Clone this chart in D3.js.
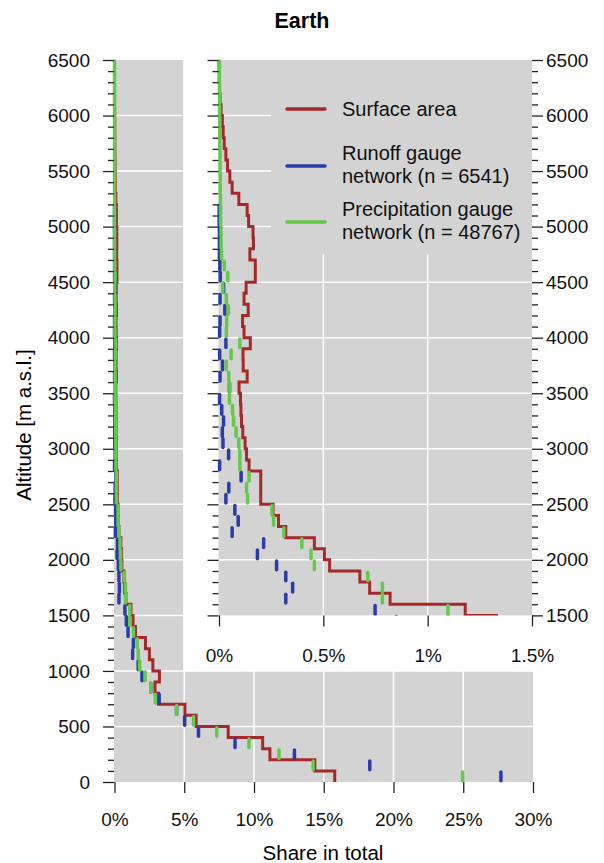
<!DOCTYPE html>
<html>
<head>
<meta charset="utf-8">
<script src="https://cdn.jsdelivr.net/npm/d3@7"></script>
<style>
  body { margin: 0; background: #fff; }
  svg { display: block; font-family: "Liberation Sans", Arial, sans-serif; }
  .tick line { stroke: #222; stroke-width: 1.3; }
  .tick text { fill: #111; font-size: 19px; }
</style>
</head>
<body>
<svg id="chart" width="604" height="863"></svg>
<script>
// altitude bins (lower bound, m a.s.l.), 100 m wide
const binLow = [0, 100, 200, 300, 400, 500, 600, 700, 800, 900,
  1000, 1100, 1200, 1300, 1400, 1500, 1600, 1700, 1800, 1900,
  2000, 2100, 2200, 2300, 2400, 2500, 2600, 2700, 2800, 2900,
  3000, 3100, 3200, 3300, 3400, 3500, 3600, 3700, 3800, 3900,
  4000, 4100, 4200, 4300, 4400, 4500, 4600, 4700, 4800, 4900,
  5000, 5100, 5200, 5300, 5400, 5500, 5600, 5700, 5800, 5900,
  6000, 6100, 6200, 6300, 6400];

// share in total (%) per bin
const surfaceArea = [15.79, 14.36, 11.14, 10.62, 8.15, 5.85, 5.05, 3.15, 2.9, 3.22,
  2.75, 2.5, 2.22, 1.5, 1.33, 1.18, 0.82, 0.722, 0.675, 0.53,
  0.505, 0.457, 0.32, 0.285, 0.259, 0.2, 0.2, 0.2, 0.144, 0.132,
  0.125, 0.114, 0.108, 0.105, 0.103, 0.096, 0.135, 0.116, 0.115, 0.15,
  0.12, 0.113, 0.14, 0.12, 0.13, 0.174, 0.174, 0.148, 0.165, 0.163,
  0.142, 0.135, 0.095, 0.063, 0.052, 0.041, 0.033, 0.025, 0.02, 0.016,
  0.01, 0.005, 0.002, 0.001, 0];

const runoffGauges = [27.7, 18.3, 12.9, 8.64, 6.02, 5.03, 4.45, 3.2, 2.6, 1.97,
  1.7, 1.3, 1.35, 0.97, 0.85, 0.748, 0.32, 0.353, 0.32, 0.276,
  0.184, 0.214, 0.063, 0.092, 0.076, 0.033, 0.047, 0.106, 0.003, 0.046,
  0.019, 0.016, 0.022, 0.013, 0.003, 0.05, 0.005, 0.017, 0.003, 0.033,
  0.003, 0.005, 0.028, 0.005, 0.022, 0.006, 0.004, 0.002, 0.002, 0.002,
  0.001, 0.001, 0, 0, 0, 0, 0, 0, 0, 0,
  0, 0, 0, 0, 0];

const precipGauges = [24.95, 14.24, 11.79, 9.64, 7.33, 5.67, 4.45, 2.93, 2.6, 2.2,
  1.8, 1.7, 1.62, 1.36, 1.1, 1.097, 0.783, 0.783, 0.713, 0.457,
  0.441, 0.397, 0.311, 0.262, 0.254, 0.137, 0.132, 0.144, 0.1, 0.1,
  0.095, 0.082, 0.07, 0.065, 0.05, 0.052, 0.047, 0.035, 0.058, 0.1,
  0.035, 0.037, 0.045, 0.035, 0.018, 0.042, 0.025, 0.012, 0.01, 0.01,
  0.008, 0.008, 0.007, 0.006, 0.006, 0.005, 0.005, 0.004, 0.004, 0.004,
  0.003, 0.003, 0.003, 0.002, 0.002];

const altTicks = [0, 500, 1000, 1500, 2000, 2500, 3000, 3500, 4000, 4500, 5000, 5500, 6000, 6500];
const mainPctTicks = [0, 5, 10, 15, 20, 25, 30];
const insetPctTicks = [0, 0.5, 1, 1.5];
const legendLabels = [['Surface area'], ['Runoff gauge', 'network (n = 6541)'], ['Precipitation gauge', 'network (n = 48767)']];

const colors = { surface: '#a5292a', runoff: '#2a3ca6', precip: '#62c94a' };
const panelGray = '#d3d3d3';
const binSize = 100;

const svg = d3.select('#chart');

// Scales
const y = d3.scaleLinear().domain([0, 6500]).range([782, 60]);
const xMain = d3.scaleLinear().domain([0, 30]).range([114.5, 533]);
const xIn = d3.scaleLinear().domain([0, 1.5]).range([219, 532]);
const yIn0 = 1500;

// step path for surface area
function stepPoints(values) {
  const pts = [];
  values.forEach((v, i) => {
    pts.push([v, binLow[i]]);
    pts.push([v, binLow[i] + binSize]);
  });
  return pts;
}

function drawSeries(g, xs) {
  const line = d3.line().x(d => xs(d[0])).y(d => y(d[1]));
  g.append('path')
    .attr('d', line(stepPoints(surfaceArea)))
    .attr('fill', 'none')
    .attr('stroke', colors.surface)
    .attr('stroke-width', 3)
    .attr('stroke-linejoin', 'miter');

  [[runoffGauges, colors.runoff], [precipGauges, colors.precip]].forEach(([vals, col]) => {
    g.selectAll(null)
      .data(vals.map((v, i) => ({ v, lo: binLow[i] })).filter(d => d.v > 0))
      .enter()
      .append('line')
      .attr('x1', d => xs(d.v))
      .attr('x2', d => xs(d.v))
      .attr('y1', d => y(d.lo) - 1.2)
      .attr('y2', d => y(d.lo + binSize) + 1.2)
      .attr('stroke', col)
      .attr('stroke-width', 3.5)
      .attr('stroke-linecap', 'round');
  });
}

function altAxis(axisFn, yScale, tx, withLabels, domainMin) {
  const minor = binLow.concat([6500]).filter(a => a >= domainMin && a % 500 !== 0);
  const g = svg.append('g').attr('transform', `translate(${tx},0)`);
  g.append('g').call(axisFn(yScale).tickValues(minor).tickSize(6).tickFormat(''))
    .call(s => s.select('.domain').remove());
  g.append('g').call(axisFn(yScale).tickValues(altTicks.filter(a => a >= domainMin))
      .tickSize(11).tickPadding(withLabels ? (axisFn === d3.axisLeft ? 13 : 3) : 0)
      .tickFormat(withLabels ? d3.format('d') : ''))
    .call(s => s.select('.domain').remove());
}

// ---- main panel ----
svg.append('rect')
  .attr('x', xMain(0) - 0.5).attr('y', y(6500))
  .attr('width', xMain(30) - xMain(0) + 0.5).attr('height', y(0) - y(6500))
  .attr('fill', panelGray);

const gridMain = svg.append('g').attr('stroke', '#fff').attr('stroke-width', 1.5);
gridMain.selectAll(null).data(altTicks.slice(1, -1)).enter().append('line')
  .attr('x1', xMain(0)).attr('x2', xMain(30)).attr('y1', d => y(d)).attr('y2', d => y(d));
gridMain.selectAll(null).data(mainPctTicks.slice(1, -1)).enter().append('line')
  .attr('x1', d => xMain(d)).attr('x2', d => xMain(d)).attr('y1', y(0)).attr('y2', y(6500));

drawSeries(svg.append('g'), xMain);

altAxis(d3.axisLeft, y, xMain(0) - 0.5, true, 0);

svg.append('g')
  .attr('transform', `translate(0,${y(0)})`)
  .call(d3.axisBottom(xMain).tickValues(mainPctTicks).tickSize(11).tickPadding(20).tickFormat(d => d + '%'))
  .call(s => s.select('.domain').remove());

// ---- inset (zoom on 1500-6500 m) ----
svg.append('rect')
  .attr('x', xMain(5) - 1).attr('y', 0)
  .attr('width', 604 - xMain(5) + 1).attr('height', y(1000))
  .attr('fill', '#fff');

svg.append('rect')
  .attr('x', xIn(0) - 0.5).attr('y', y(6500))
  .attr('width', xIn(1.5) - xIn(0) + 0.5).attr('height', y(yIn0) - y(6500))
  .attr('fill', panelGray);

const gridIn = svg.append('g').attr('stroke', '#fff').attr('stroke-width', 1.5);
gridIn.selectAll(null).data(altTicks.filter(a => a > yIn0 && a < 6500)).enter().append('line')
  .attr('x1', xIn(0)).attr('x2', xIn(1.5)).attr('y1', d => y(d)).attr('y2', d => y(d));
gridIn.selectAll(null).data(insetPctTicks.slice(1, -1)).enter().append('line')
  .attr('x1', d => xIn(d)).attr('x2', d => xIn(d)).attr('y1', y(yIn0)).attr('y2', y(6500));

// legend box
svg.append('rect')
  .attr('x', xIn(0.25)).attr('y', y(6500))
  .attr('width', xIn(1.5) - xIn(0.25)).attr('height', y(4750) - y(6500))
  .attr('fill', panelGray);

svg.append('clipPath').attr('id', 'clipIn')
  .append('rect')
  .attr('x', xIn(0) - 4).attr('y', y(6500) - 4)
  .attr('width', xIn(1.5) - xIn(0) + 4).attr('height', y(yIn0) - y(6500) + 4);

drawSeries(svg.append('g').attr('clip-path', 'url(#clipIn)'), xIn);

altAxis(d3.axisLeft, y, xIn(0) - 0.5, false, yIn0);
altAxis(d3.axisRight, y, xIn(1.5), true, yIn0);

svg.append('g')
  .attr('transform', `translate(0,${y(yIn0)})`)
  .call(d3.axisBottom(xIn).tickValues(insetPctTicks).tickSize(11).tickPadding(22).tickFormat(d => d + '%'))
  .call(s => s.select('.domain').remove());

// legend
const legendColors = [colors.surface, colors.runoff, colors.precip];
const legendY = [109, 166, 222];
const legend = svg.append('g');
legendLabels.forEach((lines, i) => {
  legend.append('line')
    .attr('x1', 287).attr('x2', 325)
    .attr('y1', legendY[i]).attr('y2', legendY[i])
    .attr('stroke', legendColors[i]).attr('stroke-width', 3.5).attr('stroke-linecap', 'round');
  const t = legend.append('text')
    .attr('x', 342)
    .attr('y', lines.length === 1 ? legendY[i] + 7 : legendY[i] - 6)
    .style('font-size', '20px').attr('fill', '#111');
  lines.forEach((s, j) => t.append('tspan').attr('x', 342).attr('dy', j === 0 ? 0 : 23).text(s));
});

// titles
svg.append('text')
  .attr('x', 302).attr('y', 28)
  .attr('text-anchor', 'middle')
  .style('font-size', '21.5px').style('font-weight', 'bold')
  .text('Earth');

svg.append('text')
  .attr('transform', `translate(31,425) rotate(-90)`)
  .attr('text-anchor', 'middle')
  .style('font-size', '20.5px')
  .text('Altitude [m a.s.l.]');

svg.append('text')
  .attr('x', 323).attr('y', 860)
  .attr('text-anchor', 'middle')
  .style('font-size', '20.5px')
  .text('Share in total');
</script>
</body>
</html>
